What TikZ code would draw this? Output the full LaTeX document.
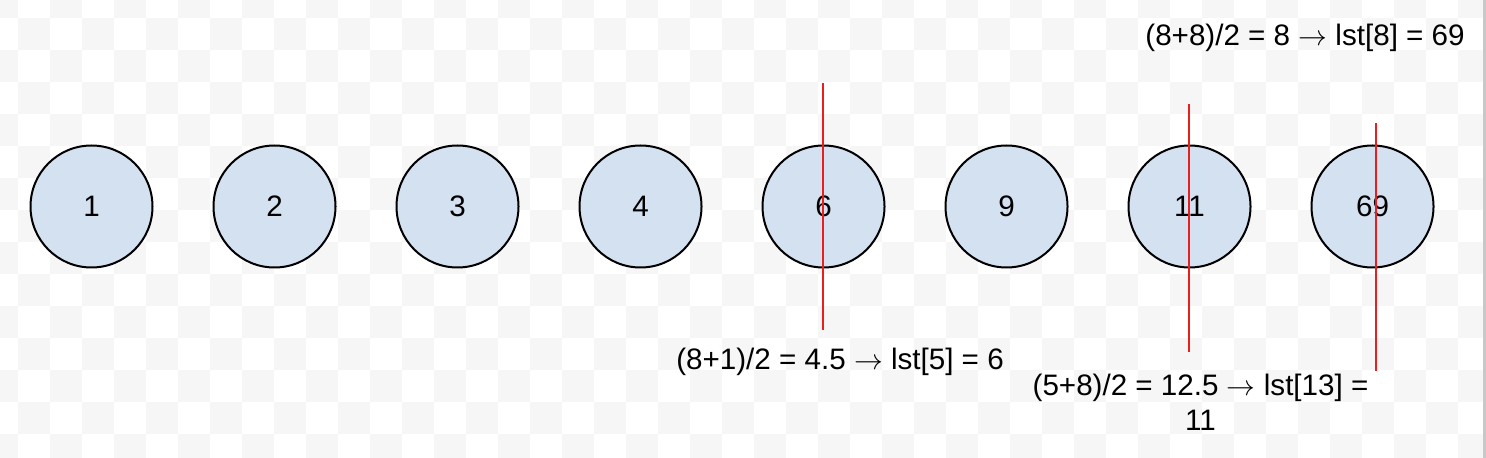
\documentclass[tikz,border=0pt]{standalone}
\usepackage{fontspec}
\setmainfont{Liberation Sans}
\definecolor{chk}{RGB}{246,246,246}
\definecolor{cfill}{RGB}{212,225,240}
\definecolor{redl}{RGB}{235,30,30}
\definecolor{edge}{RGB}{200,200,200}
\newcommand{\arr}{\ensuremath{\rightarrow}}
\tikzset{
  ball/.style={circle, draw=black, line width=1pt, fill=cfill, minimum size=61pt, inner sep=0pt, font=\fontsize{14.8}{17}\selectfont},
  redline/.style={draw=redl, line width=0.7pt},
  note/.style={inner sep=0pt, align=center, font=\fontsize{14.8}{17.5}\selectfont}
}
\begin{document}
\begin{tikzpicture}[x=0.5pt,y=-0.5pt]
\useasboundingbox (0,0) rectangle (1486,458);
% transparency checkerboard
\begin{scope}
\clip (0,0) rectangle (1486,458);
\foreach \i in {0,...,46}{
  \foreach \j in {0,...,14}{
    \pgfmathtruncatemacro{\cellpar}{mod(\i+\j,2)}
    \ifnum\cellpar=0
      \fill[chk] ({18+32*(\i-1)},{18+32*(\j-1)}) rectangle ++(32,32);
    \fi
  }
}
\end{scope}
\fill[edge] (1483,0) rectangle (1486,458);
% circles
\node[ball] (c1) at (91.5,206.5) {1};
\node[ball] (c2) at (274.5,206.5) {2};
\node[ball] (c3) at (457.5,206.5) {3};
\node[ball] (c4) at (640.5,206.5) {4};
\node[ball] (c5) at (823.5,206.5) {6};
\node[ball] (c6) at (1006.5,206.5) {9};
\node[ball] (c7) at (1189.5,206.5) {11};
\node[ball] (c8) at (1372.5,206.5) {69};
% red marker lines
\coordinate (r1t) at (823,83);
\coordinate (r1b) at (823,330);
\coordinate (r2t) at (1189,104);
\coordinate (r2b) at (1189,352);
\coordinate (r3t) at (1376,123);
\coordinate (r3b) at (1376,371);
\draw[redline] (r1t) -- (r1b);
\draw[redline] (r2t) -- (r2b);
\draw[redline] (r3t) -- (r3b);
% labels
\node[note] (t1) at (840,362) {(8+1)/2 = 4.5 \arr{} lst[5] = 6};
\node[note] (t2) at (1200.5,402) {(5+8)/2 = 12.5 \arr{} lst[13] =\\11};
\node[note] (t3) at (1305,38) {(8+8)/2 = 8 \arr{} lst[8] = 69};
\end{tikzpicture}
\end{document}
